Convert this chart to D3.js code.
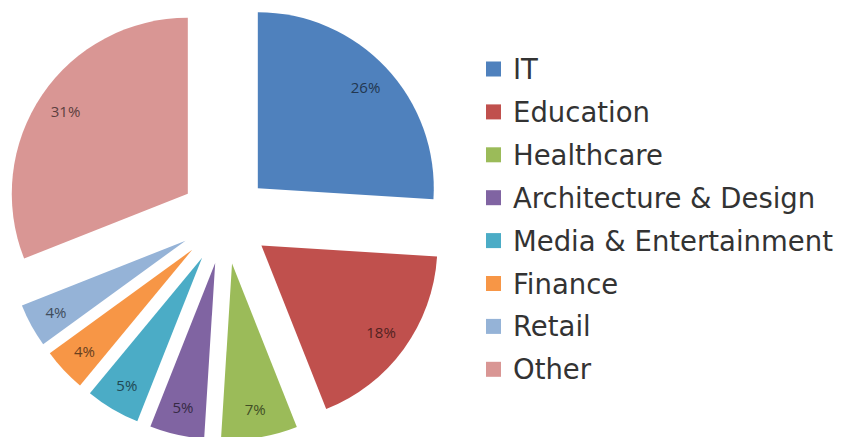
<!DOCTYPE html>
<html lang="en">
<head>
    <meta charset="utf-8">
    <title>Sectors</title>
    <script src="https://cdn.jsdelivr.net/npm/d3@7"></script>
    <style>
        * { margin: 0; padding: 0; box-sizing: border-box; }
        body { background: #fff; width: 848px; height: 437px; overflow: hidden; }
        svg { display: block; font-family: 'Open Sans', sans-serif; }
    </style>
</head>
<body>
    <div id="chart"></div>
    <script>
        var categories = ["IT", "Education", "Healthcare", "Architecture & Design",
            "Media & Entertainment", "Finance", "Retail", "Other"];
        var values = [26, 18, 7, 5, 5, 4, 4, 31];
        var colors = ["#4f81bd", "#c0504d", "#9bbb59", "#8064a2",
            "#4bacc6", "#f79646", "#95b3d7", "#d99694"];

        var width = 848, height = 437;
        var cx = 225, cy = 219, radius = 176, explode = 45;

        var svg = d3.select("#chart").append("svg")
            .attr("width", width)
            .attr("height", height);

        var pie = d3.pie().sort(null).value(function (d) { return d; });
        var arc = d3.arc().innerRadius(0).outerRadius(radius);
        var labelArc = d3.arc().innerRadius(radius * 0.84).outerRadius(radius * 0.84);
        var color = d3.scaleOrdinal().domain(categories).range(colors);

        var arcs = pie(values);

        var slice = svg.append("g")
            .attr("transform", "translate(" + cx + "," + cy + ")")
            .selectAll("g")
            .data(arcs)
            .enter()
            .append("g")
            .attr("transform", function (d) {
                var a = (d.startAngle + d.endAngle) / 2;
                return "translate(" + (Math.sin(a) * explode) + "," + (-Math.cos(a) * explode) + ")";
            });

        slice.append("path")
            .attr("d", arc)
            .style("fill", function (d, i) { return color(categories[i]); });

        slice.append("text")
            .attr("transform", function (d) { return "translate(" + labelArc.centroid(d) + ")"; })
            .attr("text-anchor", "middle")
            .attr("dominant-baseline", "central")
            .style("font-size", "15px")
            .style("fill", function (d, i) { return d3.color(color(categories[i])).darker(2.4); })
            .text(function (d) { return d.data + "%"; });

        // legend
        var legend = svg.append("g")
            .selectAll("g")
            .data(categories)
            .enter()
            .append("g")
            .attr("transform", function (d, i) { return "translate(486," + (69 + i * 42.9) + ")"; });

        legend.append("rect")
            .attr("x", 0)
            .attr("y", -7.5)
            .attr("width", 15)
            .attr("height", 15)
            .style("fill", function (d) { return color(d); });

        legend.append("text")
            .attr("x", 27)
            .attr("dominant-baseline", "central")
            .style("font-family", "'DejaVu Sans', sans-serif")
            .style("font-size", "27.5px")
            .style("fill", "#333")
            .text(function (d) { return d; });
    </script>
</body>
</html>
